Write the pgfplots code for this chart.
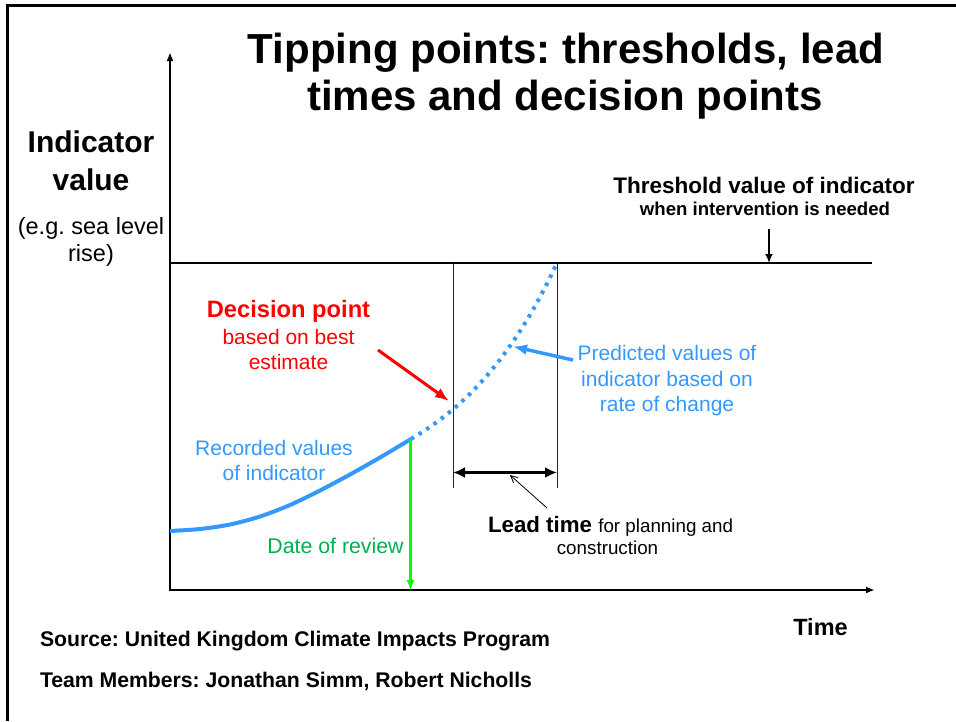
\documentclass[border=0pt]{standalone}
\usepackage{pgfplots}
\pgfplotsset{compat=1.18}
\usepackage{fontspec}
\setmainfont{Liberation Sans}
\usetikzlibrary{arrows.meta}
\definecolor{lblue}{HTML}{3399FF}
\definecolor{bgreen}{HTML}{00FF00}
\definecolor{tgreen}{HTML}{00B050}
\definecolor{dred}{HTML}{FF0000}
\newcommand{\fs}[1]{\fontsize{#1}{#1}\selectfont}
\frenchspacing
\begin{document}
\frenchspacing
\begin{tikzpicture}
\begin{axis}[
  width=956pt, height=721pt, scale only axis,
  xmin=0, xmax=956, ymin=0, ymax=721, y dir=reverse,
  hide axis, clip=false,
  every axis plot/.append style={no marks},
  nodes={inner sep=0pt, outer sep=0pt},
]
% frame
\addplot[black, line width=3pt] coordinates {(7.7,721) (7.7,5.7) (956,5.7)};
% axes
\addplot[black, line width=2pt, -{Latex[length=9pt,width=7pt]}] coordinates {(170,591) (170,52)};
\addplot[black, line width=2.5pt, -{Latex[length=9pt,width=7pt]}] coordinates {(169,590) (875,590)};
% threshold
\addplot[black, line width=2.5pt] coordinates {(170,263) (872,263)};
\addplot[black, line width=2.5pt, -{Latex[length=9pt,width=8pt]}] coordinates {(769,229) (769,263)};
% vertical guides
\addplot[black!85, line width=1pt] coordinates {(453,263) (453,488)};
\addplot[black!85, line width=1pt] coordinates {(557,263) (557,488)};
% lead time arrow
\addplot[black, line width=3pt, {Latex[length=12pt,width=11pt]}-{Latex[length=12pt,width=11pt]}] coordinates {(453,472.5) (557,472.5)};
\addplot[black, line width=0.8pt, -{Straight Barb[length=7pt,width=7pt]}] coordinates {(547,508) (510,475)};
% recorded values
\addplot[lblue, line width=4pt, smooth] coordinates {
(170,531) (200,529) (230,524.5) (260,516.5) (290,505) (320,490.5) (350,474.5) (380,457.5) (411,439)};
% predicted values
\addplot[lblue, line width=4pt, dash pattern=on 3.5pt off 5.5pt, smooth] coordinates {
(411,439) (425,430.3) (440,419.7) (455,407.6) (470,393.7) (485,377.8) (500,359.6) (515,338.7) (530,314.9) (545,287.6) (557,263)};
% green date of review
\addplot[bgreen, line width=2.5pt, -{Latex[length=11pt,width=8pt]}] coordinates {(410.5,439) (410.5,591)};
% red arrow
\addplot[dred, line width=3pt, -{Latex[length=14pt,width=11pt]}] coordinates {(378,350) (449,401)};
% blue arrow
\addplot[lblue, line width=3.5pt, -{Latex[length=14pt,width=11pt]}] coordinates {(573,360) (513,346.5)};

% texts
\node[anchor=base] at (axis cs:566,63) {\fs{42}\bfseries Tipping points: thresholds, lead};
\node[anchor=base] at (axis cs:565,110) {\fs{42}\bfseries times and decision points};
\node[anchor=base] at (axis cs:91,152) {\fs{30}\bfseries Indicator};
\node[anchor=base] at (axis cs:91,190) {\fs{30}\bfseries value};
\node[anchor=base] at (axis cs:91,234) {\fs{23.5}(e.g. sea level};
\node[anchor=base] at (axis cs:91,261) {\fs{23.5}rise)};
\node[anchor=base] at (axis cs:764,193) {\fs{22.5}\bfseries Threshold value of indicator};
\node[anchor=base] at (axis cs:765,215) {\fs{18.6}\bfseries when intervention is needed};
\node[anchor=base, text=dred] at (axis cs:288.5,317) {\fs{23.7}\bfseries Decision point};
\node[anchor=base, text=dred] at (axis cs:288.5,344) {\fs{21}based on best};
\node[anchor=base, text=dred] at (axis cs:288.5,369) {\fs{21}estimate};
\node[anchor=base, text=lblue] at (axis cs:667,360) {\fs{21}Predicted values of};
\node[anchor=base, text=lblue] at (axis cs:667,386) {\fs{21}indicator based on};
\node[anchor=base, text=lblue] at (axis cs:667,411) {\fs{21}rate of change};
\node[anchor=base, text=lblue] at (axis cs:274,455) {\fs{21}Recorded values};
\node[anchor=base, text=lblue] at (axis cs:274,480) {\fs{21}of indicator};
\node[anchor=base, text=tgreen] at (axis cs:335.5,553) {\fs{21.3}Date of review};
\node[anchor=base west] at (axis cs:488,532) {{\fs{22.3}\bfseries Lead time\ }{\fs{18.8}for planning and}};
\node[anchor=base] at (axis cs:607.5,554) {\fs{18.8}construction};
\node[anchor=base] at (axis cs:820.5,635) {\fs{23.5}\bfseries Time};
\node[anchor=base west] at (axis cs:40,646) {\fs{21.2}\bfseries Source: United Kingdom Climate Impacts Program};
\node[anchor=base west] at (axis cs:40,687) {\fs{21.2}\bfseries Team Members: Jonathan Simm, Robert Nicholls};
\end{axis}
\pgfresetboundingbox
\useasboundingbox (current axis.south west) rectangle (current axis.north east);
\end{tikzpicture}
\end{document}
